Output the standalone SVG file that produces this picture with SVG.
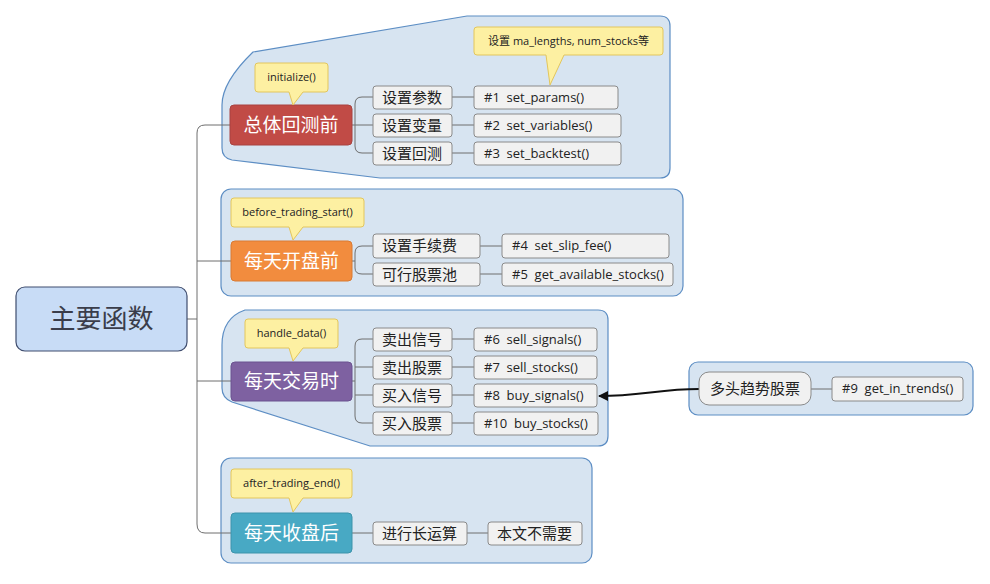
<svg xmlns="http://www.w3.org/2000/svg" width="990" height="584" viewBox="0 0 990 584">
<defs>
<style>
.grp{fill:#d7e4f1;stroke:#5d8ec4;stroke-width:1.2}
.child{fill:#f1f1f1;stroke:#8a8a8a;stroke-width:1}
.ln{fill:none;stroke:#6e6e6e;stroke-width:1}
.call{fill:#fdf0a2;stroke:#e3c65c;stroke-width:1}
.t{font-family:"Open Sans","Noto Sans CJK SC",sans-serif;fill:#222;white-space:pre}
.cn{font-size:15px}
.fn{font-size:13px}
.cl{font-size:11px}
.big{font-family:"Noto Sans CJK SC",sans-serif;font-size:19px;fill:#fff}
</style>
<marker id="ah" viewBox="0 0 10 10" refX="9" refY="5" markerWidth="5" markerHeight="5" orient="auto">
<path d="M0 0 L10 5 L0 10 Z" fill="#111"/>
</marker>
</defs>
<rect width="990" height="584" fill="#ffffff"/>

<g id="group1">
<path class="grp" d="M253 52 L467 16 L660 16 Q670 16 670 26 L670 168 Q670 178 660 178 L380 178 L232 160 Q222 158 222 148 L222 105 Q222 82 253 52 Z"/>
</g>
<g id="group2">
<rect class="grp" x="221" y="189" width="462" height="107" rx="10"/>
</g>
<g id="group3">
<path class="grp" d="M245 310 L598 310 Q608 310 608 320 L608 436 Q608 446 598 446 L370 446 L232 402 Q222 398 222 388 L222 345 Q222 318 245 310 Z"/>
</g>
<g id="group4">
<rect class="grp" x="689" y="362" width="284" height="53" rx="9"/>
</g>
<g id="group5">
<rect class="grp" x="221" y="458" width="371" height="105" rx="10"/>
</g>

<g id="connectors">
<path class="ln" d="M187 319 H197 M230 125 H205 Q197 125 197 133 V524 Q197 533 205 533 H231 M197 261 H231 M197 381 H231"/>
<path class="ln" d="M352 125 H355 M373 97 H362 Q355 97 355 104 V146 Q355 153 362 153 H373 M355 125 H373 M452 97 H474 M452 125 H474 M452 153 H474"/>
<path class="ln" d="M352 261 H355 M373 246 H362 Q355 246 355 253 V268 Q355 274 362 274 H373 M480 246 H502 M480 274 H502"/>
<path class="ln" d="M352 381 H355 M373 339 H362 Q355 339 355 346 V416 Q355 423 362 423 H373 M355 367 H373 M355 395 H373 M452 339 H474 M452 367 H474 M452 395 H474 M452 423 H474"/>
<path class="ln" d="M352 533 H373 M467 533 H488"/>
<path class="ln" d="M811 389 H832"/>
<path d="M699 389 C660 389 640 396 599 396" fill="none" stroke="#111" stroke-width="2" marker-end="url(#ah)"/>
</g>

<g id="main">
<rect x="16" y="287" width="171" height="64" rx="9" fill="#c8dcf6" stroke="#3f4d6e" stroke-width="1.2"/>
<text x="101.5" y="328" text-anchor="middle" font-family="Noto Sans CJK SC,sans-serif" font-size="26" fill="#3a3d4a">主要函数</text>
</g>

<g id="n-init">
<rect x="230" y="105" width="122" height="40" rx="4" fill="#c14b46" stroke="#a84340"/>
<text class="big" x="291" y="132" text-anchor="middle">总体回测前</text>
</g>
<g id="c-init">
<path class="call" d="M258 63 H325 Q328 63 328 66 V89 Q328 92 325 92 H303 L293 105 L289 92 H258 Q255 92 255 89 V66 Q255 63 258 63 Z"/>
<text class="t cl" x="291.5" y="81" text-anchor="middle">initialize()</text>
</g>
<g id="c-params">
<path class="call" d="M477 27 H660 Q663 27 663 30 V52 Q663 55 660 55 H564 L550 85 L546 55 H477 Q474 55 474 52 V30 Q474 27 477 27 Z"/>
<text class="t cl" x="568.5" y="45" text-anchor="middle">设置 ma_lengths, num_stocks等</text>
</g>
<g id="s1"><rect class="child" x="373" y="86" width="79" height="23" rx="3"/><text class="t cn" x="382" y="103">设置参数</text></g>
<g id="s2"><rect class="child" x="373" y="114" width="79" height="23" rx="3"/><text class="t cn" x="382" y="131">设置变量</text></g>
<g id="s3"><rect class="child" x="373" y="142" width="79" height="23" rx="3"/><text class="t cn" x="382" y="159">设置回测</text></g>
<g id="f1"><rect class="child" x="474" y="86" width="144" height="23" rx="3"/><text class="t fn" x="484" y="102" xml:space="preserve">#1  set_params()</text></g>
<g id="f2"><rect class="child" x="474" y="114" width="147" height="23" rx="3"/><text class="t fn" x="484" y="130" xml:space="preserve">#2  set_variables()</text></g>
<g id="f3"><rect class="child" x="474" y="142" width="147" height="23" rx="3"/><text class="t fn" x="484" y="158" xml:space="preserve">#3  set_backtest()</text></g>

<g id="n-before">
<rect x="231" y="241" width="121" height="40" rx="4" fill="#f28c3e" stroke="#d97a33"/>
<text class="big" x="291.5" y="268" text-anchor="middle">每天开盘前</text>
</g>
<g id="c-before">
<path class="call" d="M234 198 H361 Q364 198 364 201 V224 Q364 227 361 227 H303 L293 240 L289 227 H234 Q231 227 231 224 V201 Q231 198 234 198 Z"/>
<text class="t cl" x="297.5" y="216" text-anchor="middle">before_trading_start()</text>
</g>
<g id="s4"><rect class="child" x="373" y="234" width="107" height="24" rx="3"/><text class="t cn" x="382" y="251">设置手续费</text></g>
<g id="s5"><rect class="child" x="373" y="263" width="107" height="23" rx="3"/><text class="t cn" x="382" y="280">可行股票池</text></g>
<g id="f4"><rect class="child" x="502" y="234" width="167" height="24" rx="3"/><text class="t fn" x="512" y="250" xml:space="preserve">#4  set_slip_fee()</text></g>
<g id="f5"><rect class="child" x="502" y="263" width="171" height="23" rx="3"/><text class="t fn" x="512" y="279" xml:space="preserve">#5  get_available_stocks()</text></g>

<g id="n-handle">
<rect x="231" y="362" width="121" height="39" rx="4" fill="#7e61a1" stroke="#6b5290"/>
<text class="big" x="291.5" y="388" text-anchor="middle">每天交易时</text>
</g>
<g id="c-handle">
<path class="call" d="M248 319 H335 Q338 319 338 322 V345 Q338 348 335 348 H303 L293 361 L289 348 H248 Q245 348 245 345 V322 Q245 319 248 319 Z"/>
<text class="t cl" x="291.5" y="337" text-anchor="middle">handle_data()</text>
</g>
<g id="s6"><rect class="child" x="373" y="328" width="79" height="23" rx="3"/><text class="t cn" x="382" y="345">卖出信号</text></g>
<g id="s7"><rect class="child" x="373" y="356" width="79" height="23" rx="3"/><text class="t cn" x="382" y="373">卖出股票</text></g>
<g id="s8"><rect class="child" x="373" y="384" width="79" height="23" rx="3"/><text class="t cn" x="382" y="401">买入信号</text></g>
<g id="s10"><rect class="child" x="373" y="412" width="79" height="23" rx="3"/><text class="t cn" x="382" y="429">买入股票</text></g>
<g id="f6"><rect class="child" x="474" y="328" width="123" height="23" rx="3"/><text class="t fn" x="484" y="344" xml:space="preserve">#6  sell_signals()</text></g>
<g id="f7"><rect class="child" x="474" y="356" width="123" height="23" rx="3"/><text class="t fn" x="484" y="372" xml:space="preserve">#7  sell_stocks()</text></g>
<g id="f8"><rect class="child" x="474" y="384" width="123" height="23" rx="3"/><text class="t fn" x="484" y="400" xml:space="preserve">#8  buy_signals()</text></g>
<g id="f10"><rect class="child" x="474" y="412" width="124" height="23" rx="3"/><text class="t fn" x="484" y="428" xml:space="preserve">#10  buy_stocks()</text></g>

<g id="n-trend"><rect class="child" x="699" y="372" width="112" height="33" rx="10"/><text class="t cn" x="755" y="394" text-anchor="middle">多头趋势股票</text></g>
<g id="f9"><rect class="child" x="832" y="377" width="131" height="24" rx="3"/><text class="t fn" x="842" y="393" xml:space="preserve">#9  get_in_trends()</text></g>

<g id="n-after">
<rect x="231" y="513" width="121" height="40" rx="4" fill="#48a9c4" stroke="#3d93ab"/>
<text class="big" x="291.5" y="540" text-anchor="middle">每天收盘后</text>
</g>
<g id="c-after">
<path class="call" d="M234 469 H349 Q352 469 352 472 V495 Q352 498 349 498 H303 L293 512 L289 498 H234 Q231 498 231 495 V472 Q231 469 234 469 Z"/>
<text class="t cl" x="291.5" y="487" text-anchor="middle">after_trading_end()</text>
</g>
<g id="s11"><rect class="child" x="373" y="522" width="94" height="23" rx="3"/><text class="t cn" x="382" y="539">进行长运算</text></g>
<g id="s12"><rect class="child" x="488" y="522" width="94" height="23" rx="3"/><text class="t cn" x="497" y="539">本文不需要</text></g>
</svg>
